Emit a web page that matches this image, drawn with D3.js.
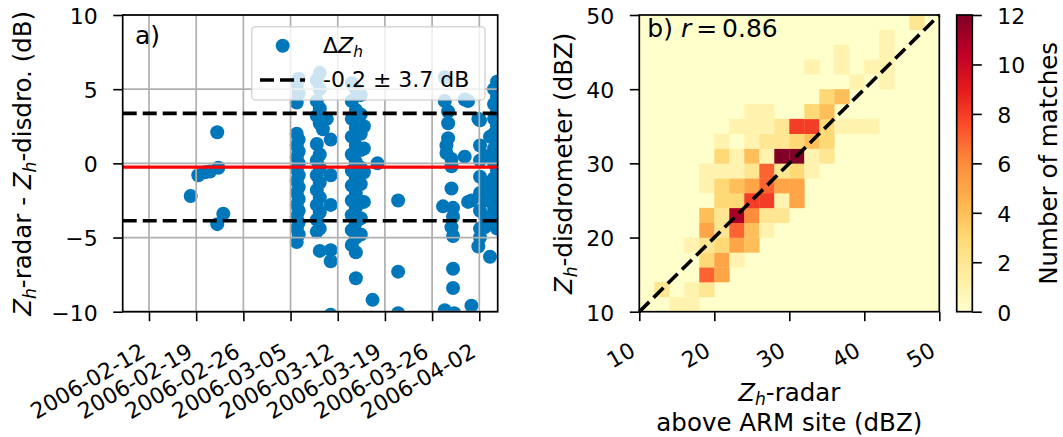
<!DOCTYPE html>
<html>
<head>
<meta charset="utf-8">
<script src="https://cdn.jsdelivr.net/npm/d3@7"></script>
<style>
  html, body { margin: 0; padding: 0; background: #fff; }
  svg { display: block; font-family: "DejaVu Sans", sans-serif; }
</style>
</head>
<body>
<svg id="chart" width="1063" height="437"></svg>
<script>
// ---------------- DATA ----------------
// Panel a) : time series of Zh differences
const obsTime = [
  "2006-02-18T04:30","2006-02-19T07:30","2006-02-20T07:00","2006-02-21T01:00","2006-02-22T03:00","2006-02-22T03:00","2006-02-22T07:00","2006-02-23T00:30",
  // ~Mar 5-6
  "2006-03-06T05:00","2006-03-06T05:00","2006-03-05T22:00","2006-03-05T22:00",
  "2006-03-05T22:00","2006-03-05T22:00","2006-03-05T22:00","2006-03-05T22:00","2006-03-05T22:00","2006-03-05T22:00","2006-03-05T22:00","2006-03-05T22:00","2006-03-05T22:00","2006-03-05T22:00",
  "2006-03-06T05:00","2006-03-06T05:00","2006-03-06T05:00","2006-03-06T05:00","2006-03-06T05:00","2006-03-06T05:00","2006-03-06T05:00","2006-03-06T05:00","2006-03-06T05:00",
  // ~Mar 9-11
  "2006-03-09T08:00","2006-03-09T08:00","2006-03-09T08:00","2006-03-09T08:00","2006-03-09T08:00","2006-03-09T08:00","2006-03-09T08:00","2006-03-09T08:00","2006-03-09T08:00","2006-03-09T08:00","2006-03-09T08:00",
  "2006-03-08T21:30","2006-03-08T21:30","2006-03-08T21:30","2006-03-08T21:30","2006-03-08T21:30","2006-03-08T21:30","2006-03-08T21:30","2006-03-08T21:30","2006-03-08T21:30","2006-03-08T21:30",
  "2006-03-10T09:00","2006-03-09T19:00",
  "2006-03-10T23:00","2006-03-10T23:00","2006-03-10T23:00","2006-03-10T23:00","2006-03-10T23:00","2006-03-10T23:00",
  // ~Mar 14-15
  "2006-03-14T02:00","2006-03-14T02:00","2006-03-14T02:00","2006-03-14T02:00","2006-03-14T02:00","2006-03-14T02:00","2006-03-14T02:00","2006-03-14T02:00","2006-03-14T02:00","2006-03-14T02:00","2006-03-14T02:00",
  "2006-03-14T16:30","2006-03-14T16:30","2006-03-14T16:30","2006-03-14T16:30","2006-03-14T16:30","2006-03-14T16:30","2006-03-14T16:30","2006-03-14T16:30","2006-03-14T16:30","2006-03-14T16:30","2006-03-14T16:30","2006-03-14T16:30",
  "2006-03-15T10:00","2006-03-15T10:00","2006-03-15T10:00","2006-03-15T10:00","2006-03-15T10:00","2006-03-15T10:00","2006-03-15T10:00","2006-03-15T10:00","2006-03-15T10:00",
  "2006-03-15T21:00","2006-03-15T21:00","2006-03-15T21:00","2006-03-15T21:00",
  // Mar 17-21
  "2006-03-17T04:00","2006-03-17T21:30","2006-03-20T23:00","2006-03-20T23:00","2006-03-20T23:00",
  // Mar 27-31
  "2006-03-27T15:00","2006-03-27T21:00","2006-03-27T21:00","2006-03-27T21:00",
  "2006-03-28T03:00","2006-03-28T03:00","2006-03-28T09:00","2006-03-28T09:00","2006-03-28T09:00",
  "2006-03-28T21:00","2006-03-28T21:00","2006-03-28T21:00","2006-03-28T21:00",
  "2006-03-29T02:30","2006-03-29T02:30","2006-03-29T02:30","2006-03-29T02:30","2006-03-29T02:30","2006-03-29T06:30",
  "2006-03-30T20:00","2006-03-30T20:00","2006-03-31T08:00","2006-03-31T08:00","2006-03-31T20:00","2006-03-31T20:00",
  // Apr 1-4
  "2006-04-01T20:30","2006-04-01T20:30",
  "2006-04-02T02:30","2006-04-02T02:30","2006-04-02T02:30","2006-04-02T02:30","2006-04-02T02:30","2006-04-02T02:30","2006-04-02T02:30","2006-04-02T02:30",
  "2006-04-02T20:30","2006-04-02T20:30","2006-04-02T20:30","2006-04-02T20:30","2006-04-02T20:30",
  "2006-04-03T14:00","2006-04-03T14:00","2006-04-03T14:00",
  "2006-04-04T04:30","2006-04-04T04:30","2006-04-04T04:30","2006-04-04T04:30","2006-04-04T04:30","2006-04-04T04:30","2006-04-04T04:30","2006-04-04T04:30","2006-04-04T04:30","2006-04-04T04:30",
  "2006-04-04T15:00","2006-04-04T15:00","2006-04-04T15:00","2006-04-04T15:00","2006-04-04T15:00","2006-04-04T15:00","2006-04-04T15:00","2006-04-04T15:00","2006-04-04T15:00","2006-04-04T15:00","2006-04-04T15:00"
];
const deltaZh = [
  -2.2,-0.8,-0.6,-0.55,2.1,-4.1,-0.3,-3.4,
  5.7,4.7,5.2,4.1,
  2.0,1.2,0.4,-0.4,-1.2,-2.0,-2.8,-3.6,-4.4,-5.3,
  1.6,0.8,0.0,-0.8,-1.6,-2.4,-3.2,-4.0,-4.8,
  6.1,5.0,3.7,2.7,0.6,-0.3,-1.3,-2.3,-3.3,-4.4,-5.9,
  5.6,4.2,3.2,1.3,0.2,-0.8,-1.8,-2.8,-3.8,-4.6,
  3.0,2.3,
  1.6,-0.8,-2.8,-5.85,-6.6,-10.2,
  5.4,4.2,3.0,1.8,0.6,-0.5,-1.5,-2.5,-3.5,-4.5,-5.5,
  5.0,3.6,2.4,1.2,0.1,-1.0,-2.0,-3.0,-4.0,-5.0,-6.0,-7.75,
  4.6,3.3,2.0,0.9,-0.3,-1.4,-2.6,-3.7,-4.8,
  2.5,1.0,-0.6,-2.6,
  -9.2,0.0,-2.5,-7.3,-10.1,
  -2.9,5.8,4.2,-9.9,
  0.7,1.2,2.7,1.7,3.5,
  0.3,-0.2,-1.7,-4.3,
  -3.0,-3.6,-4.9,-7.1,-8.4,-10.1,
  4.3,0.45,4.2,-2.6,-2.5,-9.6,
  -5.6,3.0,
  2.9,1.2,0.2,-0.9,-2.0,-3.2,-4.4,-5.0,
  0.5,-1.3,-2.5,-3.6,-4.3,
  -6.3,-1.6,1.8,
  5.0,4.0,3.0,2.0,1.0,0.0,-1.0,-2.0,-3.0,-4.0,
  5.5,4.5,3.5,2.5,1.5,0.5,-0.5,-1.5,-2.5,-3.5,-4.4
];
const timeDomain = ["2006-02-08T02:24", "2006-04-04T17:30"];
const timeTicks = ["2006-02-12","2006-02-19","2006-02-26","2006-03-05","2006-03-12","2006-03-19","2006-03-26","2006-04-02"];
const diffDomain = [-10, 10];
const diffTicks = [-10, -5, 0, 5, 10];
const biasMean = -0.25;
const biasStd = 3.62;
const legendLabels = ["\u0394Z_h", "-0.2 \u00b1 3.7 dB"];

// Panel b) : 2D histogram (bin lower edges in dBZ, 2 dBZ bins)
const heatBinSize = 2;
const heatX = [14,16, 12,16,18, 18,20, 18,20,22, 16,18,20,22,24, 18,20,22,24,26, 18,20,22,24,26,28,
  20,22,24,26,28,30, 18,20,22,24,26,28,30, 18,20,22,24,26,28,30,32, 20,22,24,26,28,30,32,34,
  20,24,26,28,30,32,34, 22,24,26,28,30,32,34,36,38,40, 24,26,32,34, 34,36, 38,42, 32,36,40,42, 36,42, 42, 46];
const heatY = [10,10, 12,12,12, 14,14, 16,16,16, 18,18,18,18,18, 20,20,20,20,20, 22,22,22,22,22,22,
  24,24,24,24,24,24, 26,26,26,26,26,26,26, 28,28,28,28,28,28,28,28, 30,30,30,30,30,30,30,30,
  32,32,32,32,32,32,32, 34,34,34,34,34,34,34,34,34,34, 36,36,36,36, 38,38, 40,40, 42,42,42,42, 44,44, 46, 48];
const heatN = [1,1, 2,1,2, 7,5, 3,5,1, 1,2,3,5,4, 5,2,7,4,1, 4,2,11,6,2,2,
  3,3,8,8,1,5, 1,3,4,5,7,5,5, 1,1,1,2,7,2,3,1, 3,1,4,1,12,12,1,2,
  1,1,2,2,3,4,3, 1,1,1,2,8,8,3,1,1,1, 1,1,3,4, 3,4, 1,1, 1,1,1,1, 1,1, 1, 2];
const zhDomain = [10, 50];
const zhTicks = [10, 20, 30, 40, 50];
const countDomain = [0, 12];
const countTicks = [0, 2, 4, 6, 8, 10, 12];
const corrText = "0.86";
const ylorrd = ["#ffffcc","#ffeda0","#fed976","#feb24c","#fd8d3c","#fc4e2a","#e31a1c","#bd0026","#800026"];

// ---------------- LAYOUT ----------------
const svg = d3.select("#chart");
const FT = 22, FL = 24.5, FG = 22, FP = 25;
const A = {x0: 122.7, x1: 497.7, y0: 15, y1: 311.7};
const B = {x0: 639.3, x1: 939.3, y0: 15, y1: 311.7};
const C = {x0: 956.7, x1: 972.3, y0: 15, y1: 311.7};
const TICK = 9.5;
const pointColor = "#0077bb";
const minus = v => (v < 0 ? "\u2212" + Math.abs(v) : "" + v);

function rich(sel, parts, fs) {
  let shifted = 0;
  parts.forEach(p => {
    const ts = sel.append("tspan").text(p.t);
    if (p.i) ts.attr("font-style", "italic");
    const want = p.sub ? fs * 0.2 : 0;
    if (want !== shifted) { ts.attr("dy", want - shifted); shifted = want; }
    if (p.sub) ts.attr("font-size", fs * 0.7);
    if (p.dx) ts.attr("dx", p.dx);
  });
}

const parseT = d3.utcParse("%Y-%m-%dT%H:%M");
const parseD = d3.utcParse("%Y-%m-%d");
const fmtD = d3.utcFormat("%Y-%m-%d");

// ---------------- PANEL A ----------------
const xA = d3.scaleUtc().domain(timeDomain.map(parseT)).range([A.x0, A.x1]);
const yA = d3.scaleLinear().domain(diffDomain).range([A.y1, A.y0]);
const tickDates = timeTicks.map(parseD);

const defs = svg.append("defs");
defs.append("clipPath").attr("id", "clipA").append("rect")
  .attr("x", A.x0).attr("y", A.y0).attr("width", A.x1 - A.x0).attr("height", A.y1 - A.y0);

const gA = svg.append("g");
const pts = obsTime.map((t, i) => ({t: parseT(t), v: deltaZh[i]}));
gA.append("g").attr("clip-path", "url(#clipA)")
  .selectAll("circle").data(pts).join("circle")
  .attr("cx", d => xA(d.t)).attr("cy", d => yA(d.v)).attr("r", 7)
  .attr("fill", pointColor);

// grid (above the scatter collection, as in matplotlib defaults)
const grid = gA.append("g").attr("stroke", "#b0b0b0").attr("stroke-width", 1.7);
grid.selectAll("line.v").data(tickDates).join("line").attr("class", "v")
  .attr("x1", d => xA(d)).attr("x2", d => xA(d)).attr("y1", A.y0).attr("y2", A.y1);
grid.selectAll("line.h").data(diffTicks).join("line").attr("class", "h")
  .attr("x1", A.x0).attr("x2", A.x1).attr("y1", d => yA(d)).attr("y2", d => yA(d));

// mean and +-std lines
gA.append("line").attr("x1", A.x0).attr("x2", A.x1)
  .attr("y1", yA(biasMean)).attr("y2", yA(biasMean))
  .attr("stroke", "#ff0000").attr("stroke-width", 3.3);
gA.selectAll("line.std").data([biasMean + biasStd, biasMean - biasStd]).join("line").attr("class", "std")
  .attr("x1", A.x0).attr("x2", A.x1).attr("y1", d => yA(d)).attr("y2", d => yA(d))
  .attr("stroke", "#000").attr("stroke-width", 3.6).attr("stroke-dasharray", "14,6");

// legend
const lg = gA.append("g");
lg.append("rect").attr("x", 251.7).attr("y", 26.7).attr("width", 233.3).attr("height", 73.3)
  .attr("rx", 4).attr("fill", "#fff").attr("fill-opacity", 0.8)
  .attr("stroke", "#cccccc").attr("stroke-opacity", 0.8).attr("stroke-width", 1.5);
lg.append("circle").attr("cx", 282.7).attr("cy", 45.7).attr("r", 7).attr("fill", pointColor);
const lt1 = lg.append("text").attr("x", 323).attr("y", 53).attr("font-size", FG);
rich(lt1, [{t: legendLabels[0].slice(0, 1)}, {t: "Z", i: true}, {t: "h", i: true, sub: true}], FG);
lg.append("line").attr("x1", 260).attr("x2", 305).attr("y1", 80).attr("y2", 80)
  .attr("stroke", "#000").attr("stroke-width", 3.6).attr("stroke-dasharray", "14,6");
lg.append("text").attr("x", 323).attr("y", 87).attr("font-size", FG).text(legendLabels[1]);

// panel letter
svg.append("text").attr("x", 135).attr("y", 43.5).attr("font-size", FP).text("a)");

// axes A
const axA = svg.append("g").attr("transform", `translate(0,${A.y1})`)
  .call(d3.axisBottom(xA).tickValues(tickDates).tickFormat(fmtD).tickSize(TICK));
axA.select(".domain").remove();
axA.selectAll("line").attr("stroke", "#000").attr("stroke-width", 1.6);
axA.selectAll("text").attr("font-size", FT).attr("font-family", "DejaVu Sans").attr("fill", "#000")
  .attr("text-anchor", "end").attr("x", 0).attr("y", 0).attr("dy", null)
  .attr("transform", "translate(-2.5,44) rotate(-30)");

const ayA = svg.append("g").attr("transform", `translate(${A.x0},0)`)
  .call(d3.axisLeft(yA).tickValues(diffTicks).tickFormat(minus).tickSize(TICK));
ayA.select(".domain").remove();
ayA.selectAll("line").attr("stroke", "#000").attr("stroke-width", 1.6);
ayA.selectAll("text").attr("font-size", FT).attr("font-family", "DejaVu Sans").attr("fill", "#000")
  .attr("x", -25).attr("dy", "0.38em");

svg.append("rect").attr("x", A.x0).attr("y", A.y0).attr("width", A.x1 - A.x0).attr("height", A.y1 - A.y0)
  .attr("fill", "none").attr("stroke", "#000").attr("stroke-width", 1.7);

const ylabA = svg.append("text").attr("transform", `translate(31,${(A.y0 + A.y1) / 2}) rotate(-90)`)
  .attr("text-anchor", "middle").attr("font-size", FL);
rich(ylabA, [{t: "Z", i: true}, {t: "h", i: true, sub: true}, {t: "-radar - "}, {t: "Z", i: true},
  {t: "h", i: true, sub: true}, {t: "-disdro. (dB)"}], FL);

// ---------------- PANEL B ----------------
const xB = d3.scaleLinear().domain(zhDomain).range([B.x0, B.x1]);
const yB = d3.scaleLinear().domain(zhDomain).range([B.y1, B.y0]);
const color = d3.scaleLinear()
  .domain(ylorrd.map((c, i) => countDomain[0] + (countDomain[1] - countDomain[0]) * i / (ylorrd.length - 1)))
  .range(ylorrd).clamp(true);

svg.append("rect").attr("x", B.x0).attr("y", B.y0).attr("width", B.x1 - B.x0).attr("height", B.y1 - B.y0)
  .attr("fill", color(0));
const cells = heatX.map((x, i) => ({x, y: heatY[i], n: heatN[i]}));
svg.append("g").selectAll("rect").data(cells).join("rect")
  .attr("x", d => xB(d.x)).attr("y", d => yB(d.y + heatBinSize))
  .attr("width", d => xB(d.x + heatBinSize) - xB(d.x) + 0.3)
  .attr("height", d => yB(d.y) - yB(d.y + heatBinSize) + 0.3)
  .attr("fill", d => color(d.n));

svg.append("line").attr("x1", xB(zhDomain[0])).attr("y1", yB(zhDomain[0]))
  .attr("x2", xB(zhDomain[1])).attr("y2", yB(zhDomain[1]))
  .attr("stroke", "#000").attr("stroke-width", 3.6).attr("stroke-dasharray", "14,6");

const axB = svg.append("g").attr("transform", `translate(0,${B.y1})`)
  .call(d3.axisBottom(xB).tickValues(zhTicks).tickSize(TICK));
axB.select(".domain").remove();
axB.selectAll("line").attr("stroke", "#000").attr("stroke-width", 1.6);
axB.selectAll("text").attr("font-size", FT).attr("font-family", "DejaVu Sans").attr("fill", "#000")
  .attr("text-anchor", "end").attr("x", 0).attr("y", 0).attr("dy", null)
  .attr("transform", "translate(-3,43) rotate(-30)");

const ayB = svg.append("g").attr("transform", `translate(${B.x0},0)`)
  .call(d3.axisLeft(yB).tickValues(zhTicks).tickSize(TICK));
ayB.select(".domain").remove();
ayB.selectAll("line").attr("stroke", "#000").attr("stroke-width", 1.6);
ayB.selectAll("text").attr("font-size", FT).attr("font-family", "DejaVu Sans").attr("fill", "#000")
  .attr("x", -25).attr("dy", "0.38em");

svg.append("rect").attr("x", B.x0).attr("y", B.y0).attr("width", B.x1 - B.x0).attr("height", B.y1 - B.y0)
  .attr("fill", "none").attr("stroke", "#000").attr("stroke-width", 1.7);

const tb = svg.append("text").attr("x", 647.3).attr("y", 37).attr("font-size", FP);
rich(tb, [{t: "b) "}, {t: "r", i: true}, {t: "=", dx: 5}, {t: corrText, dx: 5}], FP);

const xlabB = svg.append("text").attr("x", (B.x0 + B.x1) / 2).attr("y", 400.5)
  .attr("text-anchor", "middle").attr("font-size", FL);
rich(xlabB, [{t: "Z", i: true}, {t: "h", i: true, sub: true}, {t: "-radar"}], FL);
svg.append("text").attr("x", (B.x0 + B.x1) / 2).attr("y", 431)
  .attr("text-anchor", "middle").attr("font-size", FL).text("above ARM site (dBZ)");

const ylabB = svg.append("text").attr("transform", `translate(572,${(B.y0 + B.y1) / 2}) rotate(-90)`)
  .attr("text-anchor", "middle").attr("font-size", FL);
rich(ylabB, [{t: "Z", i: true}, {t: "h", i: true, sub: true}, {t: "-disdrometer (dBZ)"}], FL);

// ---------------- COLORBAR ----------------
const grad = defs.append("linearGradient").attr("id", "cbar")
  .attr("x1", 0).attr("y1", 1).attr("x2", 0).attr("y2", 0);
ylorrd.forEach((c, i) => grad.append("stop").attr("offset", i / (ylorrd.length - 1)).attr("stop-color", c));
const yC = d3.scaleLinear().domain(countDomain).range([C.y1, C.y0]);
svg.append("rect").attr("x", C.x0).attr("y", C.y0).attr("width", C.x1 - C.x0).attr("height", C.y1 - C.y0)
  .attr("fill", "url(#cbar)").attr("stroke", "#000").attr("stroke-width", 1.7);
const ayC = svg.append("g").attr("transform", `translate(${C.x1},0)`)
  .call(d3.axisRight(yC).tickValues(countTicks).tickSize(TICK));
ayC.select(".domain").remove();
ayC.selectAll("line").attr("stroke", "#000").attr("stroke-width", 1.6);
ayC.selectAll("text").attr("font-size", FT).attr("font-family", "DejaVu Sans").attr("fill", "#000")
  .attr("x", 25).attr("dy", "0.38em");
svg.append("text").attr("transform", `translate(1057,${(C.y0 + C.y1) / 2}) rotate(-90)`)
  .attr("text-anchor", "middle").attr("font-size", FL).text("Number of matches");
</script>
</body>
</html>
